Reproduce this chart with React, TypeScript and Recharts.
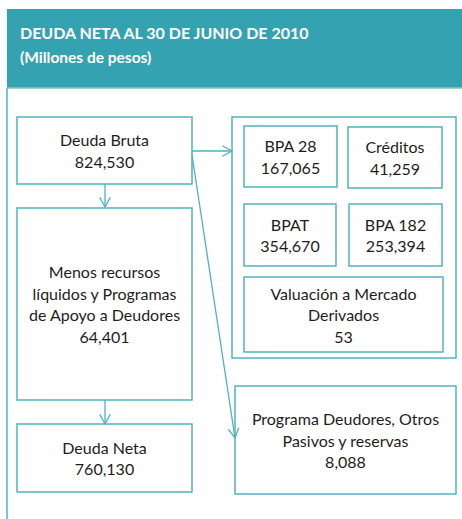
import React from 'react';
import { ComposedChart, XAxis, YAxis, ReferenceArea, ReferenceLine } from 'recharts';

// text content
const title = 'DEUDA NETA AL 30 DE JUNIO DE 2010';
const subtitle = '(Millones de pesos)';

const nodeLabels: string[][] = [
    ['Deuda Bruta'],
    ['Menos recursos', 'líquidos y Programas', 'de Apoyo a Deudores'],
    ['Deuda Neta'],
    ['BPA 28'],
    ['Créditos'],
    ['BPAT'],
    ['BPA 182'],
    ['Valuación a Mercado', 'Derivados'],
    ['Programa Deudores, Otros', 'Pasivos y reservas'],
];
const nodeValues = [824530, 64401, 760130, 167065, 41259, 354670, 253394, 53, 8088];

// layout in page units (x1, x2, y1, y2)
const nodeBoxes = [
    [17, 192, 117, 184],
    [17, 192, 208, 400],
    [17, 192, 424, 492],
    [244, 337, 126, 187],
    [348, 442, 127, 188],
    [244, 336, 204, 266],
    [349, 442, 204, 266],
    [244, 443, 277, 352],
    [235, 456, 386, 494],
];
const groupBox = [232, 456, 117, 358];
const arrows = [
    [[105, 184], [105, 207]],
    [[105, 400], [105, 424]],
    [[192, 151], [232, 151]],
    [[192, 155], [235, 438]],
];

const W = 462;
const H = 519;
const TEAL = '#35a2b1';
const LINE = '#4fb2be';
const FONT = 'Lato, "Open Sans", sans-serif';

const fmt = (v: number) => v.toLocaleString('en-US');

const boxShape = (lines: string[]) => (p: any) => {
    const { x, y, width, height } = p;
    const lh = 21.5;
    const total = lines.length * lh;
    const top = y + height / 2 - total / 2 + lh / 2;
    return (
        <g>
            <rect x={x} y={y} width={width} height={height} fill="#fff" stroke={LINE} strokeWidth={1.5} />
            {lines.map((t, i) => (
                <text key={i} x={x + width / 2} y={top + i * lh} textAnchor="middle" dominantBaseline="central"
                    fontFamily={FONT} fontSize={16} fill="#1f1c1d">{t}</text>
            ))}
        </g>
    );
};

const arrowShape = (p: any) => {
    const { x1, y1, x2, y2 } = p;
    const a = Math.atan2(y2 - y1, x2 - x1);
    const len = 11;
    const spread = 0.5;
    const ax = x2 - len * Math.cos(a - spread);
    const ay = y2 - len * Math.sin(a - spread);
    const bx = x2 - len * Math.cos(a + spread);
    const by = y2 - len * Math.sin(a + spread);
    return (
        <g>
            <line x1={x1} y1={y1} x2={x2} y2={y2} stroke={LINE} strokeWidth={1.3} />
            <polyline points={`${ax},${ay} ${x2},${y2} ${bx},${by}`} fill="none" stroke={LINE} strokeWidth={1.3} />
        </g>
    );
};

const headerShape = (p: any) => {
    const { x, y, width, height } = p;
    return (
        <g>
            <rect x={x} y={y} width={width} height={height} fill={TEAL} />
            <line x1={x} y1={y + height} x2={x + width} y2={y + height} stroke="#7cc4cd" strokeWidth={1.5} />
            <text x={x + 13} y={y + 30} fontFamily={FONT} fontWeight={700} fontSize={16} fill="#fff">{title}</text>
            <text x={x + 13} y={y + 54} fontFamily={FONT} fontWeight={700} fontSize={15.5} fill="#fff">{subtitle}</text>
        </g>
    );
};

export default function App() {
    return (
        <div style={{ position: 'absolute', left: 0, top: 0, width: W, height: H, background: '#fff' }}>
            <ComposedChart width={W} height={H} data={[]} margin={{ top: 0, right: 0, left: 0, bottom: 0 }}>
                <XAxis type="number" dataKey="x" domain={[0, W]} hide allowDataOverflow />
                <YAxis type="number" dataKey="y" domain={[0, H]} reversed hide allowDataOverflow />

                <ReferenceLine segment={[{ x: 7, y: 88 }, { x: 7, y: H }]} stroke={LINE} strokeWidth={1.5} ifOverflow="visible" />
                <ReferenceArea x1={7} x2={W} y1={9} y2={88} ifOverflow="visible" shape={headerShape} />

                <ReferenceArea x1={groupBox[0]} x2={groupBox[1]} y1={groupBox[2]} y2={groupBox[3]}
                    ifOverflow="visible" shape={boxShape([])} />

                {nodeBoxes.map((b, i) => (
                    <ReferenceArea key={i} x1={b[0]} x2={b[1]} y1={b[2]} y2={b[3]} ifOverflow="visible"
                        shape={boxShape([...nodeLabels[i], fmt(nodeValues[i])])} />
                ))}

                {arrows.map((s, i) => (
                    <ReferenceLine key={'a' + i} segment={[{ x: s[0][0], y: s[0][1] }, { x: s[1][0], y: s[1][1] }]}
                        ifOverflow="visible" shape={arrowShape} />
                ))}
            </ComposedChart>
        </div>
    );
}
